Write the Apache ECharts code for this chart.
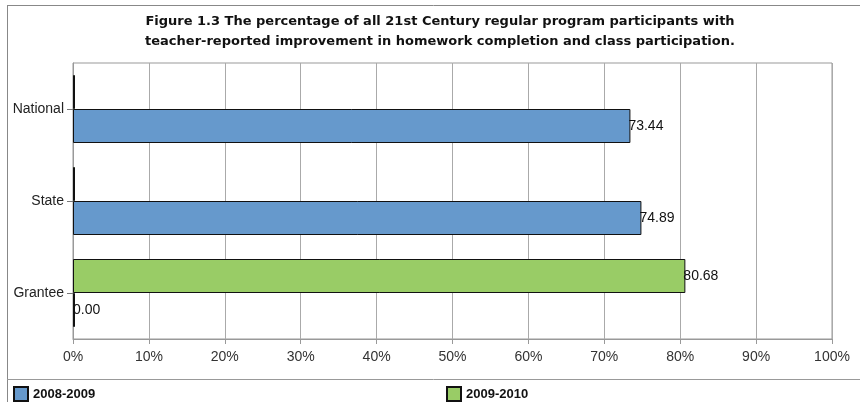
<!DOCTYPE html>
<html>
<head>
<meta charset="utf-8">
<script src="https://cdn.jsdelivr.net/npm/echarts@6/dist/echarts.min.js"></script>
<style>html,body{margin:0;padding:0;background:#fff}#c{width:860px;height:402px}</style>
</head>
<body>
<div id="c"></div>
<script>
const categories = ['National', 'State', 'Grantee'];
const series2008 = [73.44, 74.89, 0.00];
const series2009 = [0, 0, 80.68];
const seriesNames = ['2008-2009', '2009-2010'];
const xTicks = [0, 10, 20, 30, 40, 50, 60, 70, 80, 90, 100];
const titleText = 'Figure 1.3 The percentage of all 21st Century regular program participants with\nteacher-reported improvement in homework completion and class participation.';

const chart = echarts.init(document.getElementById('c'), null, {renderer: 'canvas'});
const font = 'Arial, "Liberation Sans", sans-serif';
const legendText = {fontFamily: font, fontSize: 13, fontWeight: 'bold', color: '#111'};
chart.setOption({
  animation: false,
  backgroundColor: '#fff',
  title: {
    text: titleText,
    left: 435, top: 7, textAlign: 'center',
    textStyle: {fontFamily: '"DejaVu Sans", sans-serif', fontSize: 13, fontWeight: 'bold', color: '#111', lineHeight: 20, align: 'center'}
  },
  legend: [
    {data: [seriesNames[0]], left: 13, top: 386, padding: 0, icon: 'rect', itemWidth: 14, itemHeight: 14, itemGap: 8, textStyle: legendText},
    {data: [seriesNames[1]], left: 446, top: 386, padding: 0, icon: 'rect', itemWidth: 14, itemHeight: 14, itemGap: 8, textStyle: legendText}
  ],
  grid: {left: 73, right: 28, top: 63, bottom: 63, show: true, borderColor: '#999', borderWidth: 1},
  xAxis: {
    type: 'value', min: xTicks[0], max: xTicks[xTicks.length - 1], interval: 10,
    axisLine: {show: true, lineStyle: {color: '#999'}},
    axisTick: {show: true, length: 5, lineStyle: {color: '#999'}},
    splitLine: {show: true, lineStyle: {color: '#aaa', width: 1}},
    axisLabel: {formatter: '{value}%', fontFamily: font, fontSize: 14, color: '#333', margin: 11}
  },
  yAxis: {
    type: 'category', data: categories, inverse: true,
    axisLine: {show: true, lineStyle: {color: '#999'}},
    axisTick: {show: true, length: 6, alignWithLabel: true, lineStyle: {color: '#777'}},
    axisLabel: {fontFamily: font, fontSize: 14, color: '#222', margin: 9}
  },
  series: [
    {
      name: seriesNames[1], type: 'bar', data: series2009, barWidth: 34, barGap: '0%',
      barMinHeight: 2,
      itemStyle: {color: '#99cc66', borderColor: '#111', borderWidth: 1},
      label: {show: true, position: 'right', distance: -2, fontFamily: font, fontSize: 14, color: '#111',
        formatter: p => p.value === 0 ? '' : p.value.toFixed(2)}
    },
    {
      name: seriesNames[0], type: 'bar', data: series2008, barWidth: 34, barGap: '0%',
      barMinHeight: 2,
      itemStyle: {color: '#6699cc', borderColor: '#111', borderWidth: 1},
      label: {show: true, position: 'right', distance: -2, fontFamily: font, fontSize: 14, color: '#111',
        formatter: p => p.value.toFixed(2)}
    }
  ],
  graphic: [
    {type: 'line', shape: {x1: 7, y1: 5.5, x2: 860, y2: 5.5}, style: {stroke: '#888', lineWidth: 1}, silent: true},
    {type: 'line', shape: {x1: 7.5, y1: 5, x2: 7.5, y2: 402}, style: {stroke: '#888', lineWidth: 1}, silent: true},
    {type: 'line', shape: {x1: 7, y1: 379.5, x2: 860, y2: 379.5}, style: {stroke: '#999', lineWidth: 1}, silent: true}
  ]
});
</script>
</body>
</html>
